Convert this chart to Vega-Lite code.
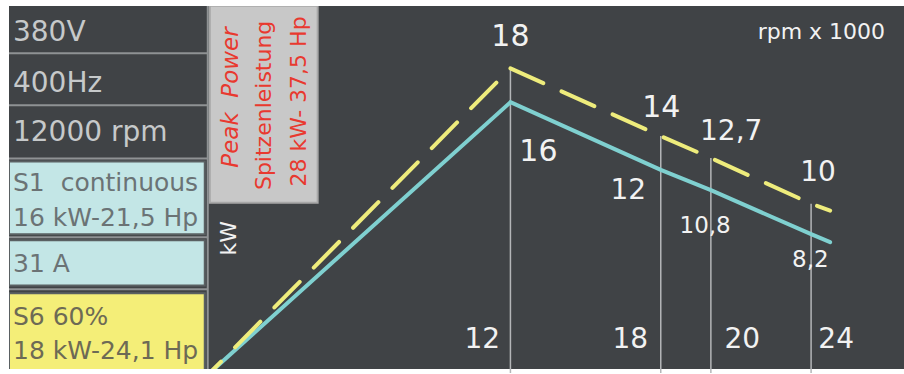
{
  "$schema": "https://vega.github.io/schema/vega-lite/v6.json",
  "width": 904,
  "height": 374,
  "autosize": {"type": "fit", "contains": "padding"},
  "padding": {"left": 8, "top": 5, "right": 0, "bottom": 0},
  "background": "#ffffff",
  "config": {
    "view": {"stroke": null, "fill": "#404346"},
    "text": {"font": "DejaVu Sans"}
  },
  "datasets": {
    "boxes": [
      {"rpm": -8.013, "rpm2": -0.2, "kW": 12.5, "kW2": 8.198, "kind": "S1"},
      {"rpm": -8.013, "rpm2": -0.2, "kW": 7.849, "kW2": 5.174, "kind": "S1"},
      {"rpm": -8.013, "rpm2": -0.2, "kW": 4.709, "kW2": 0.0, "kind": "S6"},
      {"rpm": 0.0, "rpm2": 4.306, "kW": 21.7, "kW2": 10.058, "kind": "Peak"}
    ],
    "separators": [
      {"rpm": -8.013, "rpm2": -0.08, "kW": 18.895, "kW2": 18.895},
      {"rpm": -8.013, "rpm2": -0.08, "kW": 15.814, "kW2": 15.814},
      {"rpm": -8.013, "rpm2": -0.08, "kW": 12.674, "kW2": 12.674},
      {"rpm": -8.013, "rpm2": -0.08, "kW": 8.023, "kW2": 8.023},
      {"rpm": -8.013, "rpm2": -0.08, "kW": 4.942, "kW2": 4.942},
      {"rpm": -0.08, "rpm2": -0.08, "kW": 0.2326, "kW2": 21.686}
    ],
    "curves": [
      {"rpm": 0, "kW": 0, "series": "S1"},
      {"rpm": 12, "kW": 16, "series": "S1"},
      {"rpm": 18, "kW": 12, "series": "S1"},
      {"rpm": 20, "kW": 10.8, "series": "S1"},
      {"rpm": 24, "kW": 8.2, "series": "S1"},
      {"rpm": 24.76, "kW": 7.73, "series": "S1"},
      {"rpm": 0, "kW": 0, "series": "S6"},
      {"rpm": 12, "kW": 18, "series": "S6"},
      {"rpm": 18, "kW": 14, "series": "S6"},
      {"rpm": 20, "kW": 12.7, "series": "S6"},
      {"rpm": 24, "kW": 10, "series": "S6"},
      {"rpm": 24.76, "kW": 9.59, "series": "S6"}
    ],
    "drops": [
      {"rpm": 12, "kW": 17.9},
      {"rpm": 18, "kW": 14},
      {"rpm": 20, "kW": 12.7},
      {"rpm": 24, "kW": 10}
    ],
    "labels": [
      {"rpm": 12.0, "kW": 19.826, "text": "18", "group": "big"},
      {"rpm": 13.116, "kW": 13.081, "text": "16", "group": "big"},
      {"rpm": 18.02, "kW": 15.64, "text": "14", "group": "big"},
      {"rpm": 20.81, "kW": 14.244, "text": "12,7", "group": "mid"},
      {"rpm": 24.28, "kW": 11.802, "text": "10", "group": "mid"},
      {"rpm": 16.70, "kW": 10.756, "text": "12", "group": "mid"},
      {"rpm": 19.77, "kW": 8.663, "text": "10,8", "group": "small"},
      {"rpm": 23.97, "kW": 6.686, "text": "8,2", "group": "small"},
      {"rpm": 10.88, "kW": 1.919, "text": "12", "group": "mid"},
      {"rpm": 16.78, "kW": 1.919, "text": "18", "group": "mid"},
      {"rpm": 21.25, "kW": 1.919, "text": "20", "group": "mid"},
      {"rpm": 25.0, "kW": 1.919, "text": "24", "group": "mid"},
      {"rpm": 24.41, "kW": 20.174, "text": "rpm x 1000", "group": "unit"}
    ],
    "panel": [
      {"rpm": -7.854, "kW": 20.116, "text": "380V", "group": "dark"},
      {"rpm": -7.854, "kW": 17.093, "text": "400Hz", "group": "dark"},
      {"rpm": -7.854, "kW": 14.186, "text": "12000 rpm", "group": "dark"},
      {"rpm": -7.854, "kW": 11.221, "text": "S1\u00a0\u00a0continuous", "group": "teal"},
      {"rpm": -7.854, "kW": 9.186, "text": "16 kW-21,5 Hp", "group": "teal"},
      {"rpm": -7.854, "kW": 6.453, "text": "31 A", "group": "teal"},
      {"rpm": -7.854, "kW": 3.314, "text": "S6 60%", "group": "yellow"},
      {"rpm": -7.854, "kW": 1.279, "text": "18 kW-24,1 Hp", "group": "yellow"}
    ],
    "peak": [
      {"rpm": 0.837, "kW": 16.279, "text": "Peak\u00a0\u00a0Power", "group": "italic"},
      {"rpm": 2.153, "kW": 15.814, "text": "Spitzenleistung", "group": "normal"},
      {"rpm": 3.548, "kW": 16.047, "text": "28 kW- 37,5 Hp", "group": "normal"}
    ]
  },
  "encoding": {
    "x": {"field": "rpm", "type": "quantitative", "scale": {"domain": [-8.013, 27.708], "nice": false, "zero": false}, "axis": null},
    "y": {"field": "kW", "type": "quantitative", "scale": {"domain": [0.2326, 21.686], "nice": false, "zero": false}, "axis": null}
  },
  "layer": [
    {
      "data": {"name": "boxes"},
      "mark": {"type": "rect", "clip": true, "strokeWidth": 2},
      "encoding": {
        "x2": {"field": "rpm2"},
        "y2": {"field": "kW2"},
        "fill": {"field": "kind", "type": "nominal", "legend": null,
          "scale": {"domain": ["S1", "S6", "Peak"], "range": ["#c3e6e6", "#f4ee78", "#c8c8c8"]}},
        "stroke": {"field": "kind", "type": "nominal", "legend": null,
          "scale": {"domain": ["S1", "S6", "Peak"], "range": ["#5a6062", "#5a6062", "#a8a8a8"]}}
      }
    },
    {
      "data": {"name": "separators"},
      "mark": {"type": "rule", "color": "#8f9294", "strokeWidth": 2},
      "encoding": {
        "x2": {"field": "rpm2"},
        "y2": {"field": "kW2"}
      }
    },
    {
      "data": {"name": "drops"},
      "mark": {"type": "rule", "color": "#b4b6b8", "strokeWidth": 1.5},
      "encoding": {"y2": {"datum": 0}}
    },
    {
      "data": {"name": "curves"},
      "transform": [{"filter": "datum.series == 'S1'"}],
      "mark": {"type": "line", "clip": true, "color": "#7fd0d0", "strokeWidth": 4, "strokeCap": "round"},
      "encoding": {"order": {"field": "rpm"}}
    },
    {
      "data": {"name": "curves"},
      "transform": [{"filter": "datum.series == 'S6'"}],
      "mark": {"type": "line", "clip": true, "color": "#eeec7c", "strokeWidth": 4, "strokeCap": "round", "strokeDash": [36, 20], "strokeDashOffset": 20},
      "encoding": {"order": {"field": "rpm"}}
    },
    {
      "data": {"name": "labels"},
      "transform": [{"filter": "datum.group == 'big'"}],
      "mark": {"type": "text", "fontSize": 30, "color": "#f2f2f2", "align": "center", "baseline": "middle"},
      "encoding": {"text": {"field": "text"}}
    },
    {
      "data": {"name": "labels"},
      "transform": [{"filter": "datum.group == 'mid'"}],
      "mark": {"type": "text", "fontSize": 28, "color": "#f2f2f2", "align": "center", "baseline": "middle"},
      "encoding": {"text": {"field": "text"}}
    },
    {
      "data": {"name": "labels"},
      "transform": [{"filter": "datum.group == 'small'"}],
      "mark": {"type": "text", "fontSize": 23, "color": "#f2f2f2", "align": "center", "baseline": "middle"},
      "encoding": {"text": {"field": "text"}}
    },
    {
      "data": {"name": "labels"},
      "transform": [{"filter": "datum.group == 'unit'"}],
      "mark": {"type": "text", "fontSize": 22, "color": "#f2f2f2", "align": "center", "baseline": "middle"},
      "encoding": {"text": {"field": "text"}}
    },
    {
      "data": {"values": [{"rpm": 0.757, "kW": 7.965, "text": "kW"}]},
      "mark": {"type": "text", "fontSize": 22, "color": "#f2f2f2", "align": "center", "baseline": "middle", "angle": 270},
      "encoding": {"text": {"field": "text"}}
    },
    {
      "data": {"name": "panel"},
      "transform": [{"filter": "datum.group == 'dark'"}],
      "mark": {"type": "text", "fontSize": 28, "color": "#c6c9ca", "align": "left", "baseline": "middle"},
      "encoding": {"text": {"field": "text"}}
    },
    {
      "data": {"name": "panel"},
      "transform": [{"filter": "datum.group == 'teal'"}],
      "mark": {"type": "text", "fontSize": 25, "color": "#6b7375", "align": "left", "baseline": "middle"},
      "encoding": {"text": {"field": "text"}}
    },
    {
      "data": {"name": "panel"},
      "transform": [{"filter": "datum.group == 'yellow'"}],
      "mark": {"type": "text", "fontSize": 25, "color": "#6d6a55", "align": "left", "baseline": "middle"},
      "encoding": {"text": {"field": "text"}}
    },
    {
      "data": {"name": "peak"},
      "transform": [{"filter": "datum.group == 'italic'"}],
      "mark": {"type": "text", "fontSize": 23, "fontStyle": "italic", "color": "#e8392f", "align": "center", "baseline": "middle", "angle": 270},
      "encoding": {"text": {"field": "text"}}
    },
    {
      "data": {"name": "peak"},
      "transform": [{"filter": "datum.group == 'normal'"}],
      "mark": {"type": "text", "fontSize": 22, "color": "#e8392f", "align": "center", "baseline": "middle", "angle": 270},
      "encoding": {"text": {"field": "text"}}
    }
  ]
}
